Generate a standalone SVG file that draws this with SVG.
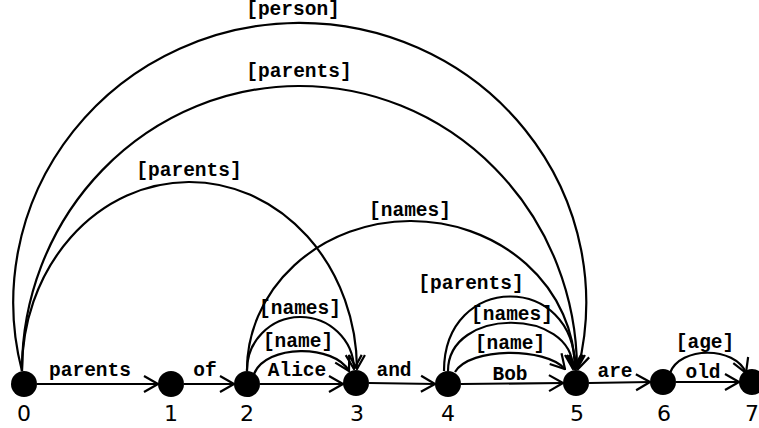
<svg xmlns="http://www.w3.org/2000/svg" width="759" height="428" viewBox="0 0 759 428">
<style>
.e{fill:none;stroke:#000;stroke-width:2.2;marker-end:url(#ah)}
.n{fill:#000}
.lb{font-family:"Liberation Mono",monospace;font-weight:bold;font-size:19.5px;text-anchor:middle;fill:#000}
.nl{font-family:"DejaVu Sans",sans-serif;font-size:22px;text-anchor:middle;fill:#000}
</style>
<defs>
<marker id="ah" viewBox="0 0 16 20" refX="15" refY="10" markerWidth="16" markerHeight="20" markerUnits="userSpaceOnUse" orient="auto">
<path d="M1,2 L15,10 L1,18" fill="none" stroke="#000" stroke-width="2.2"/>
</marker>
</defs>
<rect width="759" height="428" fill="#fff"/>
<g id="connectors">
<path class="e" d="M37,384 L158,384"/>
<path class="e" d="M184,384 L234,384"/>
<path class="e" d="M260,384 L343,384"/>
<path class="e" d="M369,383 L435,384"/>
<path class="e" d="M461,384 L563,383"/>
<path class="e" d="M589,383 L650,382"/>
<path class="e" d="M676,382 L739,382"/>
<path class="e" d="M22,371 A286.5,279.5 0 1 1 578,369"/>
<path class="e" d="M22,371 A277.5,284 0 0 1 577,369"/>
<path class="e" d="M22,371 A167.5,188 0 0 1 357,369"/>
<path class="e" d="M247,371 A164,149 0 0 1 575,369"/>
<path class="e" d="M247,371 A53.5,53 0 0 1 354,369"/>
<path class="e" d="M254,374 C266,344 334,344 349,371"/>
<path class="e" d="M444,371 C444,272 576,272 575,369"/>
<path class="e" d="M448,371 C448,307 573,307 573,369"/>
<path class="e" d="M455,372 C470,347 545,347 565,369"/>
<path class="e" d="M670,373 C680,346 735,346 746,373"/>
</g>
<g id="edge-labels">
<text class="lb" x="293" y="15">[person]</text>
<text class="lb" x="299" y="77">[parents]</text>
<text class="lb" x="189" y="176">[parents]</text>
<text class="lb" x="410" y="216">[names]</text>
<text class="lb" x="300" y="314">[names]</text>
<text class="lb" x="298" y="347">[name]</text>
<text class="lb" x="471" y="289">[parents]</text>
<text class="lb" x="512" y="320">[names]</text>
<text class="lb" x="510" y="349">[name]</text>
<text class="lb" x="705" y="348">[age]</text>
<text class="lb" x="90" y="376">parents</text>
<text class="lb" x="205" y="376">of</text>
<text class="lb" x="297" y="376">Alice</text>
<text class="lb" x="394" y="376">and</text>
<text class="lb" x="510" y="380">Bob</text>
<text class="lb" x="615" y="377">are</text>
<text class="lb" x="703" y="378">old</text>
</g>
<g id="node0"><circle class="n" cx="24" cy="384" r="13"/><text class="nl" x="24" y="421">0</text></g>
<g id="node1"><circle class="n" cx="171" cy="384" r="13"/><text class="nl" x="171" y="421">1</text></g>
<g id="node2"><circle class="n" cx="247" cy="384" r="13"/><text class="nl" x="247" y="421">2</text></g>
<g id="node3"><circle class="n" cx="356" cy="383" r="13"/><text class="nl" x="357" y="421">3</text></g>
<g id="node4"><circle class="n" cx="448" cy="384" r="13"/><text class="nl" x="448" y="421">4</text></g>
<g id="node5"><circle class="n" cx="576" cy="383" r="13"/><text class="nl" x="577" y="421">5</text></g>
<g id="node6"><circle class="n" cx="663" cy="382" r="13"/><text class="nl" x="664" y="421">6</text></g>
<g id="node7"><circle class="n" cx="752" cy="382" r="13"/><text class="nl" x="752" y="421">7</text></g>
</svg>
